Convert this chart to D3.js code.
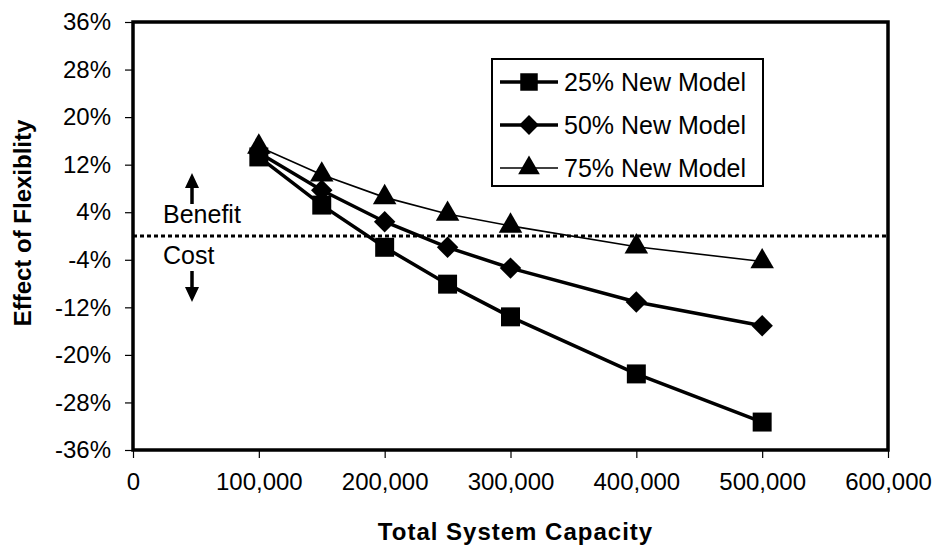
<!DOCTYPE html>
<html>
<head>
<meta charset="utf-8">
<script src="https://cdn.jsdelivr.net/npm/d3@7"></script>
<style>
  body { margin: 0; background: #fff; }
  svg { font-family: "Liberation Sans", Arial, sans-serif; }
</style>
</head>
<body>
<svg width="940" height="550"></svg>
<script>
// data
var capacity = [100000, 150000, 200000, 250000, 300000, 400000, 500000];
var newModel25 = [13.3, 5.2, -1.9, -8.1, -13.6, -23.2, -31.3];
var newModel50 = [14.0, 7.7, 2.4, -1.9, -5.4, -11.1, -15.1];
var newModel75 = [15.0, 10.3, 6.5, 3.7, 1.7, -1.8, -4.3];
var seriesNames = ["25% New Model", "50% New Model", "75% New Model"];
var yTicks = [-36, -28, -20, -12, -4, 4, 12, 20, 28, 36];
var xTicks = [0, 100000, 200000, 300000, 400000, 500000, 600000];

// marker: square, square turned 45deg (diamond), triangle
var series = [
  { name: seriesNames[0], values: newModel25, symbol: d3.symbolSquare, size: 360, rotate: 0, width: 3.5 },
  { name: seriesNames[1], values: newModel50, symbol: d3.symbolSquare, size: 230, rotate: 45, width: 3.5 },
  { name: seriesNames[2], values: newModel75, symbol: d3.symbolTriangle, size: 240, rotate: 0, width: 1.6 }
];

// plot area edges ("top" is taken by window.top, so prefix them)
var svg = d3.select("svg"),
    plotLeft = 133, plotRight = 888, plotTop = 22, plotBottom = 450;

var x = d3.scaleLinear().domain([0, 600000]).range([plotLeft, plotRight]);
var y = d3.scaleLinear().domain([-36, 36]).range([plotBottom, plotTop]);

// axes
var xAxis = svg.append("g")
    .attr("transform", "translate(0," + plotBottom + ")")
    .call(d3.axisBottom(x).tickValues(xTicks).tickSize(8).tickPadding(15)
      .tickFormat(d3.format(",")));
var yAxis = svg.append("g")
    .attr("transform", "translate(" + plotLeft + ",0)")
    .call(d3.axisLeft(y).tickValues(yTicks).tickSize(8).tickPadding(14)
      .tickFormat(function(d) { return d + "%"; }));

[xAxis, yAxis].forEach(function(a) {
  a.select(".domain").remove();
  a.selectAll(".tick line").attr("stroke", "#000").attr("stroke-width", 1.2);
  a.selectAll(".tick text").attr("font-size", 24).attr("fill", "#000")
    .attr("font-family", "Liberation Sans, Arial, sans-serif");
});

// plot frame
svg.append("rect")
    .attr("x", plotLeft).attr("y", plotTop)
    .attr("width", plotRight - plotLeft).attr("height", plotBottom - plotTop)
    .attr("fill", "none").attr("stroke", "#000").attr("stroke-width", 3.5);

// zero line (dotted)
svg.append("line")
    .attr("x1", plotLeft).attr("x2", plotRight)
    .attr("y1", y(0)).attr("y2", y(0))
    .attr("stroke", "#000").attr("stroke-width", 3)
    .attr("stroke-dasharray", "4,3");

// benefit / cost annotation
var annX = 192;
svg.append("text").attr("x", 163).attr("y", y(0) - 13)
    .attr("font-size", 25).text("Benefit");
svg.append("text").attr("x", 163).attr("y", y(0) + 28)
    .attr("font-size", 25).text("Cost");

function arrow(y1, y2) {
  var dir = y2 < y1 ? -1 : 1;
  svg.append("line")
      .attr("x1", annX).attr("x2", annX)
      .attr("y1", y1).attr("y2", y2 - dir * 14)
      .attr("stroke", "#000").attr("stroke-width", 3.5);
  svg.append("path")
      .attr("d", "M" + (annX - 7) + "," + (y2 - dir * 15) + "L" + (annX + 7) + "," + (y2 - dir * 15) + "L" + annX + "," + y2 + "Z")
      .attr("fill", "#000");
}
arrow(204, 173);
arrow(271, 302);

// lines and markers
var line = d3.line()
    .x(function(d, i) { return x(capacity[i]); })
    .y(function(d) { return y(d); });

series.slice().reverse().forEach(function(s) {
  svg.append("path")
      .datum(s.values)
      .attr("d", line)
      .attr("fill", "none")
      .attr("stroke", "#000")
      .attr("stroke-width", s.width);
});

series.slice().reverse().forEach(function(s) {
  svg.append("g").selectAll("path")
    .data(s.values)
    .enter().append("path")
      .attr("transform", function(d, i) {
        return "translate(" + x(capacity[i]) + "," + y(d) + ") rotate(" + s.rotate + ")";
      })
      .attr("d", d3.symbol().type(s.symbol).size(s.size))
      .attr("fill", "#000");
});

// legend
var legend = svg.append("g").attr("transform", "translate(492,59)");
legend.append("rect")
    .attr("width", 271).attr("height", 127)
    .attr("fill", "#fff").attr("stroke", "#000").attr("stroke-width", 2);

var item = legend.selectAll("g.item")
    .data(series)
    .enter().append("g")
      .attr("class", "item")
      .attr("transform", function(d, i) { return "translate(0," + (23 + i * 43) + ")"; });

item.append("line")
    .attr("x1", 8).attr("x2", 66)
    .attr("stroke", "#000")
    .attr("stroke-width", function(d) { return d.width; });
item.append("path")
    .attr("transform", function(d) { return "translate(37,0) rotate(" + d.rotate + ")"; })
    .attr("d", function(d) { return d3.symbol().type(d.symbol).size(d.size * 0.85)(); })
    .attr("fill", "#000");
item.append("text")
    .attr("x", 72).attr("dy", "0.35em")
    .attr("font-size", 25)
    .text(function(d) { return d.name; });

// axis titles
svg.append("text")
    .attr("x", (plotLeft + plotRight) / 2 + 5).attr("y", 540)
    .attr("text-anchor", "middle")
    .attr("font-size", 24).attr("font-weight", "bold")
    .attr("letter-spacing", 1)
    .text("Total System Capacity");

svg.append("text")
    .attr("transform", "translate(31,223) rotate(-90)")
    .attr("text-anchor", "middle")
    .attr("font-size", 24).attr("font-weight", "bold")
    .text("Effect of Flexiblity");
</script>
</body>
</html>
